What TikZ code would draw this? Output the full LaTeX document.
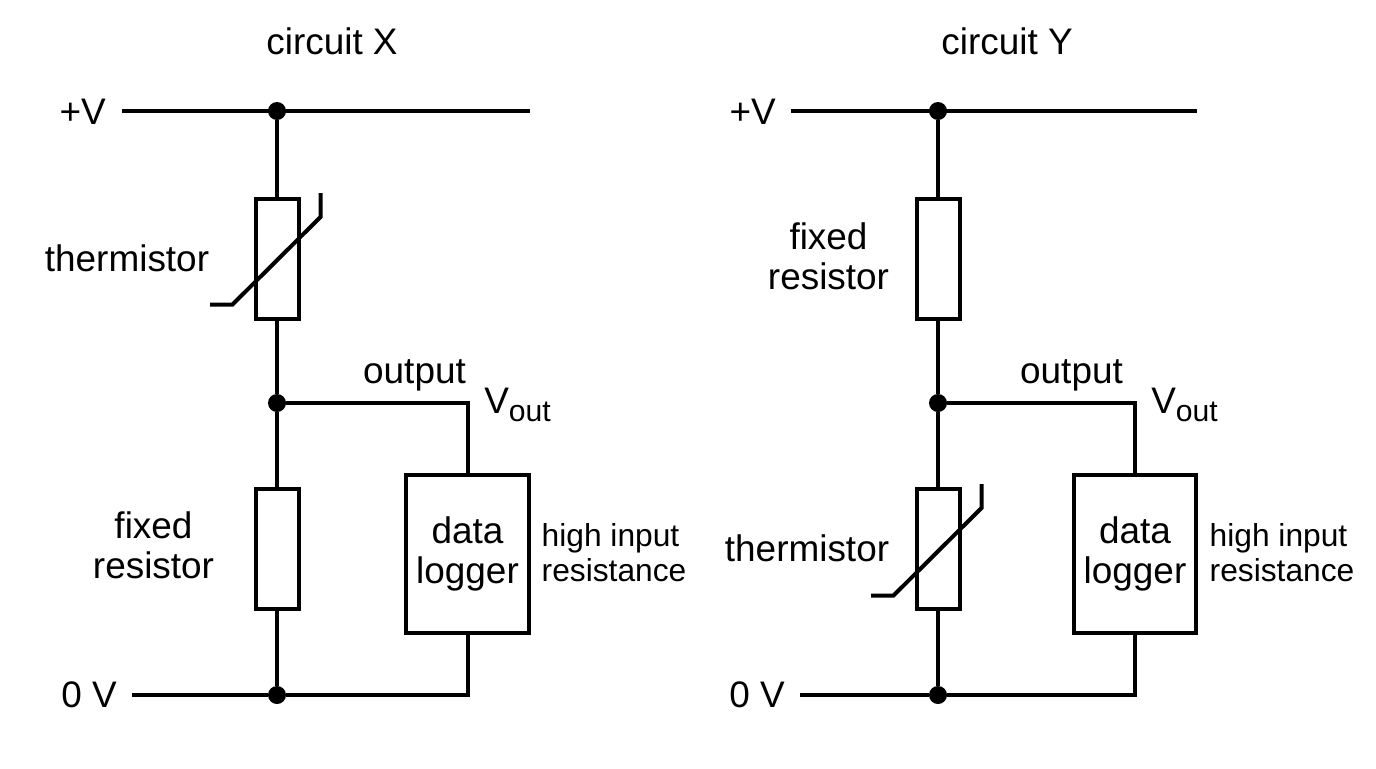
\documentclass[tikz,border=0pt]{standalone}
\usepackage{fontspec}
\setmainfont{Liberation Sans}
\tikzset{
  x=0.75pt,y=-0.75pt,
  wire/.style={line width=3pt,line cap=butt},
  box/.style={draw,line width=3pt,fill=white,inner sep=0pt},
  dot/.style={circle,fill=black,inner sep=0pt,minimum size=13.5pt},
  big/.style={inner sep=0pt,font=\fontsize{27.7}{30}\selectfont,align=center},
  small/.style={inner sep=0pt,font=\fontsize{23.8}{26.2}\selectfont,align=left},
}
\newcommand{\subout}{\raisebox{-0.22em}{\fontsize{22.6}{26}\selectfont out}}
\begin{document}
\begin{tikzpicture}
\useasboundingbox[fill=white] (0,0) rectangle (1376,768);
% ---------- circuit X
\node[big] (titleX) at (332,41) {circuit X};
\node[big,anchor=east] (plusX) at (106,112) {+V};
\node[big,anchor=east] (zeroX) at (117,695) {0 V};
\coordinate (railXl) at (122,111);
\coordinate (railXr) at (530,111);
\coordinate (gndXl) at (132,695);
\node[dot] (topX) at (277,111) {};
\node[dot] (midX) at (277,403) {};
\node[dot] (botX) at (277,695) {};
\node[box,minimum width=32.25pt,minimum height=90pt] (thX) at (277,258.5) {};
\node[box,minimum width=32.25pt,minimum height=90pt] (frX) at (277,549) {};
\node[box,minimum width=92pt,minimum height=118.5pt,big] (dlX) at (467.5,553.5) {data\\logger};
\coordinate (cornerXa) at (468,403);
\coordinate (cornerXb) at (468,695);
\draw[wire] (railXl) -- (railXr);
\draw[wire] (topX) -- (thX);
\draw[wire] (thX) -- (midX);
\draw[wire] (midX) -- (frX);
\draw[wire] (frX) -- (botX);
\draw[wire] (gndXl) -- (botX);
\draw[wire,line join=miter] (midX) -- (cornerXa) -- (dlX.north -| cornerXa);
\draw[wire,line join=miter] (botX) -- (cornerXb) -- (dlX.south -| cornerXb);
\coordinate (slashXa) at (210,304.5);
\coordinate (slashXb) at (232.5,304.5);
\coordinate (slashXc) at (320.5,217);
\coordinate (slashXd) at (320.5,193);
\draw[wire,line join=miter] (slashXa) -- (slashXb) -- (slashXc) -- (slashXd);
\node[big] (lblThX) at (127,258) {thermistor};
\node[big] (lblFrX) at (153.5,545) {fixed\\resistor};
\node[big] (lblOutX) at (414.5,375) {output};
\node[big,anchor=west] (lblVX) at (484,405) {V\subout};
\node[small] (lblHiX) at (614,553) {high input\\resistance};
% ---------- circuit Y
\node[big] (titleY) at (1007,41) {circuit Y};
\node[big,anchor=east] (plusY) at (776,112) {+V};
\node[big,anchor=east] (zeroY) at (785,695) {0 V};
\coordinate (railYl) at (791,111);
\coordinate (railYr) at (1197,111);
\coordinate (gndYl) at (800,695);
\node[dot] (topY) at (938,111) {};
\node[dot] (midY) at (938,403) {};
\node[dot] (botY) at (938,695) {};
\node[box,minimum width=32.25pt,minimum height=90pt] (frY) at (938,258.5) {};
\node[box,minimum width=32.25pt,minimum height=90pt] (thY) at (938,549) {};
\node[box,minimum width=92pt,minimum height=118.5pt,big] (dlY) at (1135,553.5) {data\\logger};
\coordinate (cornerYa) at (1135,403);
\coordinate (cornerYb) at (1135,695);
\draw[wire] (railYl) -- (railYr);
\draw[wire] (topY) -- (frY);
\draw[wire] (frY) -- (midY);
\draw[wire] (midY) -- (thY);
\draw[wire] (thY) -- (botY);
\draw[wire] (gndYl) -- (botY);
\draw[wire,line join=miter] (midY) -- (cornerYa) -- (dlY.north -| cornerYa);
\draw[wire,line join=miter] (botY) -- (cornerYb) -- (dlY.south -| cornerYb);
\coordinate (slashYa) at (871,595.5);
\coordinate (slashYb) at (893.5,595.5);
\coordinate (slashYc) at (981.5,508);
\coordinate (slashYd) at (981.5,484);
\draw[wire,line join=miter] (slashYa) -- (slashYb) -- (slashYc) -- (slashYd);
\node[big] (lblThY) at (807,548) {thermistor};
\node[big] (lblFrY) at (828.5,256) {fixed\\resistor};
\node[big] (lblOutY) at (1071.5,375) {output};
\node[big,anchor=west] (lblVY) at (1151,405) {V\subout};
\node[small] (lblHiY) at (1282,553) {high input\\resistance};
\end{tikzpicture}
\end{document}
